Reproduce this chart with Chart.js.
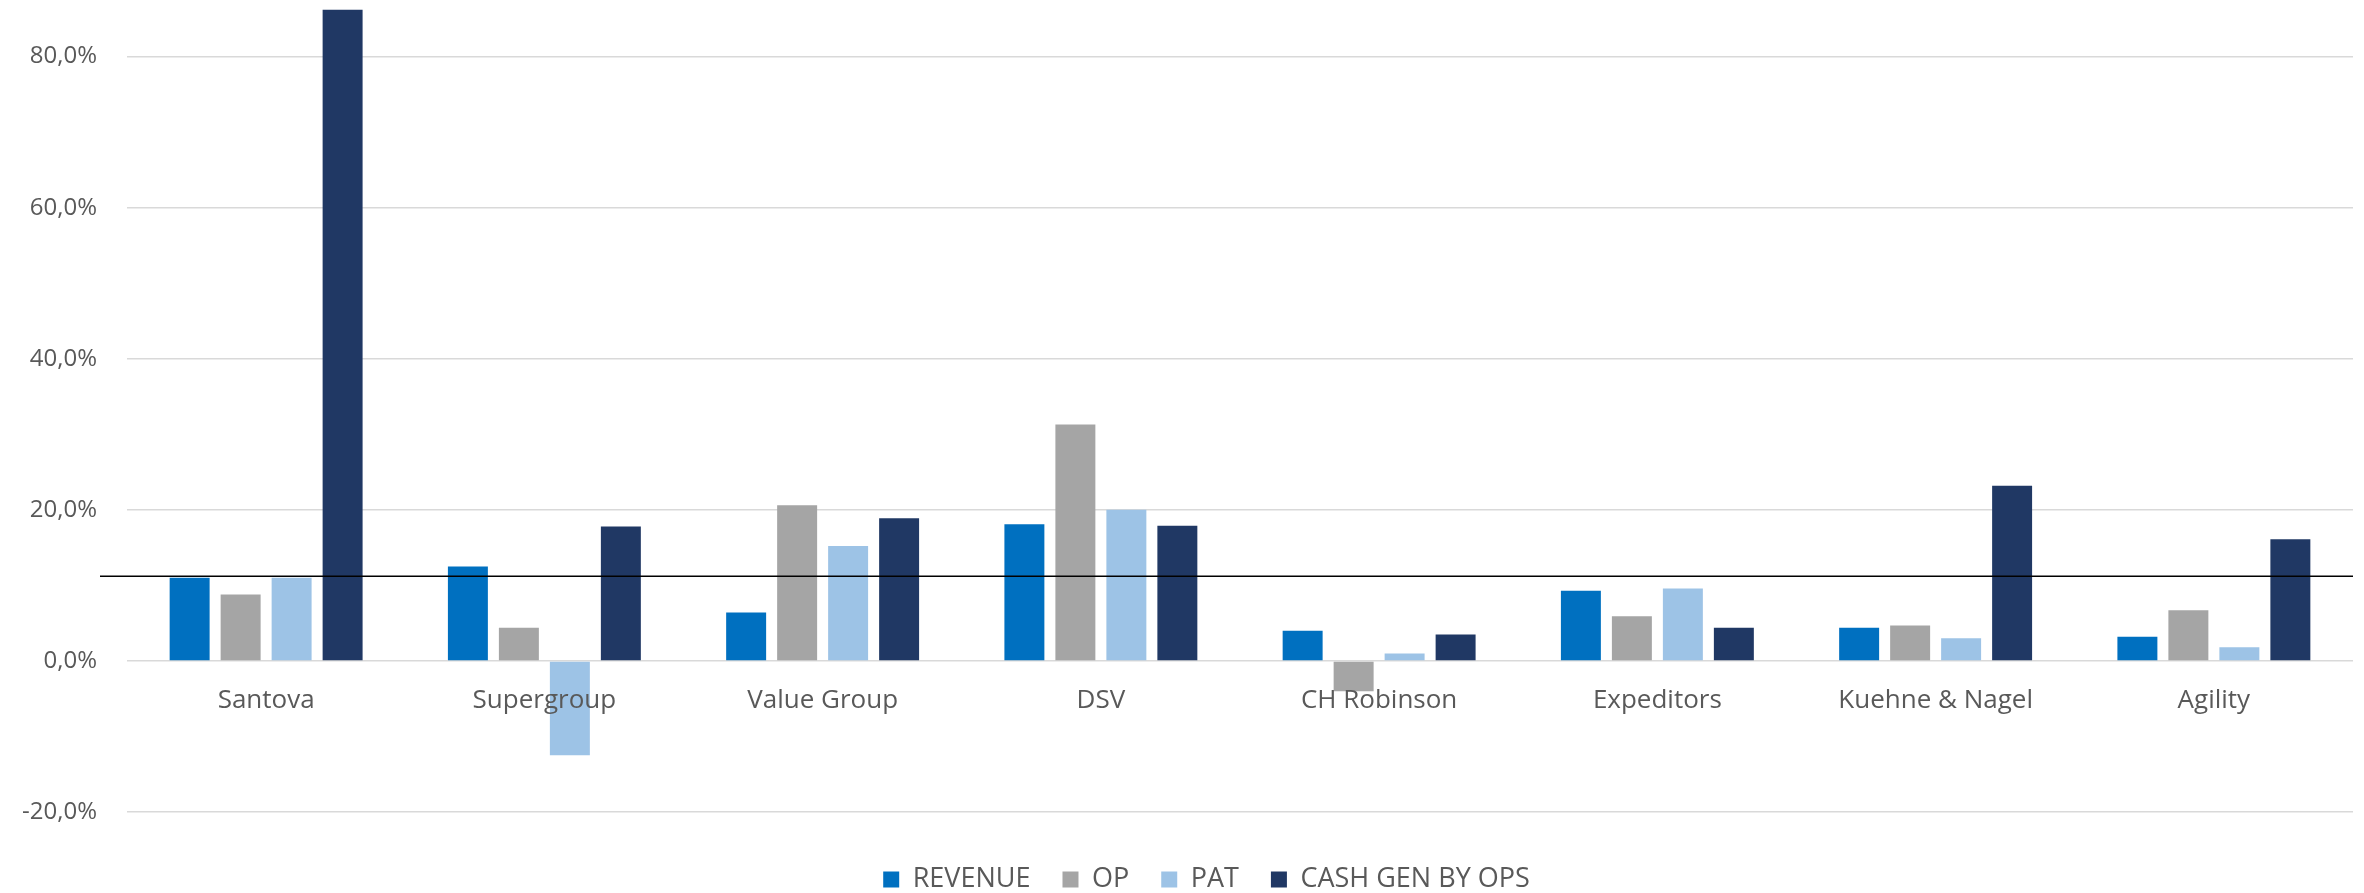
<!DOCTYPE html>
<html>
<head>
<meta charset="utf-8">
<script src="https://cdn.jsdelivr.net/npm/chart.js@4.4.1/dist/chart.umd.min.js"></script>
<style>
  html, body { margin: 0; padding: 0; background: #ffffff; }
  #wrap { width: 2364px; height: 893px; }
</style>
</head>
<body>
<div id="wrap"><canvas id="c" width="2364" height="893"></canvas></div>
<script>
const categories = ['Santova', 'Supergroup', 'Value Group', 'DSV', 'CH Robinson', 'Expeditors', 'Kuehne & Nagel', 'Agility'];
const seriesNames = ['REVENUE', 'OP', 'PAT', 'CASH GEN BY OPS'];
const revenue = [11.0, 12.5, 6.4, 18.1, 4.0, 9.3, 4.4, 3.2];
const op      = [8.8, 4.4, 20.6, 31.3, -4.0, 5.9, 4.7, 6.7];
const pat     = [11.0, -12.5, 15.2, 20.0, 1.0, 9.6, 3.0, 1.8];
const cashGen = [86.2, 17.8, 18.9, 17.9, 3.5, 4.4, 23.2, 16.1];
const referenceLine = 11.2;
const yTicks = [-20, 0, 20, 40, 60, 80];
const yMin = -20;
const yMax = 87.5;

const colors = ['#0070C0', '#A5A5A5', '#9DC3E6', '#203864'];
const values = [revenue, op, pat, cashGen];

const refLinePlugin = {
  id: 'refLine',
  afterDatasetsDraw(chart) {
    const y = chart.scales.y.getPixelForValue(referenceLine);
    const ctx = chart.ctx;
    ctx.save();
    ctx.strokeStyle = '#000000';
    ctx.lineWidth = 1.5;
    ctx.beginPath();
    ctx.moveTo(100, y);
    ctx.lineTo(chart.chartArea.right, y);
    ctx.stroke();
    ctx.restore();
  }
};

const legendShiftPlugin = {
  id: 'legendShift',
  afterLayout(chart) {
    const lg = chart.legend;
    if (lg) {
      lg.top += 10; lg.bottom += 10;
      lg.left += 30; lg.right += 30;
    }
  }
};

const fontFamily = "'Open Sans', 'Noto Sans', sans-serif";

new Chart(document.getElementById('c'), {
  type: 'bar',
  data: {
    labels: categories,
    datasets: seriesNames.map((name, i) => ({
      label: name,
      data: values[i],
      backgroundColor: colors[i],
      borderWidth: 0,
      categoryPercentage: 0.733,
      barPercentage: 0.784
    }))
  },
  options: {
    responsive: false,
    animation: false,
    maintainAspectRatio: false,
    layout: { padding: { left: 0, right: 11, top: 0, bottom: 0 } },
    plugins: {
      tooltip: { enabled: false },
      legend: {
        position: 'bottom',
        title: { display: true, text: '', font: { size: 10, lineHeight: 1 }, padding: { top: 2, bottom: 0 } },
        labels: {
          boxWidth: 16,
          boxHeight: 16,
          padding: 32,
          color: '#595959',
          font: { family: fontFamily, size: 27 }
        }
      }
    },
    scales: {
      x: {
        position: { y: 0 },
        grid: { display: false, drawTicks: false },
        border: { display: false },
        ticks: {
          z: 1,
          color: '#595959',
          padding: 24,
          font: { family: fontFamily, size: 26 }
        }
      },
      y: {
        min: yMin,
        max: yMax,
        afterBuildTicks(scale) {
          scale.ticks = yTicks.map(v => ({ value: v }));
        },
        afterFit(scale) {
          scale.width = 127;
          scale.paddingTop = 0;
          scale.paddingBottom = 0;
        },
        grid: { color: '#D9D9D9', lineWidth: 1.5, drawTicks: false },
        border: { display: false },
        ticks: {
          color: '#595959',
          padding: 30,
          font: { family: fontFamily, size: 24 },
          callback: v => v.toFixed(1).replace('.', ',') + '%'
        }
      }
    }
  },
  plugins: [refLinePlugin, legendShiftPlugin]
});
</script>
</body>
</html>
